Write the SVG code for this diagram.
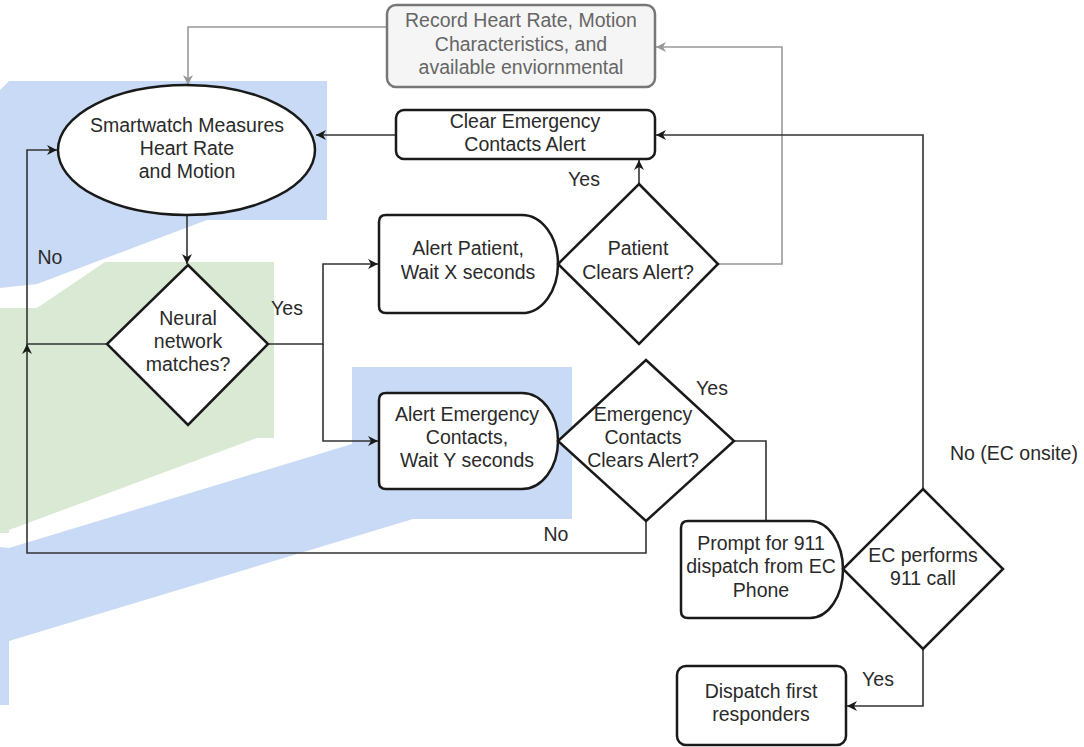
<svg xmlns="http://www.w3.org/2000/svg" width="1084" height="747" viewBox="0 0 1084 747">
<defs>
<style>
.hl-blue{fill:#c9daf6;stroke:none}
.hl-green{fill:#d9e9d3;stroke:none}
.node{fill:#ffffff;stroke:#1a1a1a;stroke-width:2.5}
.gnode{fill:#f5f5f5;stroke:#777777;stroke-width:2.5}
.edge{fill:none;stroke:#333333;stroke-width:1.6}
.gedge{fill:none;stroke:#999999;stroke-width:1.6}
text{font-family:"Liberation Sans",Arial,Helvetica,sans-serif;font-size:19.5px;fill:#2a2a2a}
.c{text-anchor:middle}
.gt{fill:#666666}
</style>
<marker id="arr" viewBox="0 0 10 10" refX="10" refY="5" markerWidth="10" markerHeight="10" markerUnits="userSpaceOnUse" orient="auto">
<path d="M0,0 L10,5 L0,10 L3,5 Z" fill="#1a1a1a"/>
</marker>
<marker id="garr" viewBox="0 0 10 10" refX="10" refY="5" markerWidth="10" markerHeight="10" markerUnits="userSpaceOnUse" orient="auto">
<path d="M0,0 L10,5 L0,10 L3,5 Z" fill="#999999"/>
</marker>
</defs>
<rect width="1084" height="747" fill="#ffffff"/>
<g id="highlights">
<polygon class="hl-blue" points="9,81 327,81 327,220 207,220 37,284 0,288 0,90"/>
<polygon class="hl-green" points="105,262 274,262 274,438 257,438 9,530 9,533 0,533 0,308 37,308"/>
<polygon class="hl-blue" points="352,367 572,367 572,519 413,519 9,641 9,705 0,705 0,547 9,548 352,444"/>
</g>
<g id="connectors">
<path class="gedge" d="M387,27 H188 V85" marker-end="url(#garr)"/>
<path class="gedge" d="M718,264 H782 V47 H656" marker-end="url(#garr)"/>
<path class="edge" d="M396,135 H316" marker-end="url(#arr)"/>
<path class="edge" d="M639,184 V160" marker-end="url(#arr)"/>
<path class="edge" d="M923,489 V135 H656" marker-end="url(#arr)"/>
<path class="edge" d="M187,215 V264" marker-end="url(#arr)"/>
<path class="edge" d="M268,344 H323 V264 H378" marker-end="url(#arr)"/>
<path class="edge" d="M323,344 V441 H378" marker-end="url(#arr)"/>
<path class="edge" d="M107,344 H27 V150 H57" marker-end="url(#arr)"/>
<path class="edge" d="M646,521 V553 H27 V344" marker-end="url(#arr)"/>
<path class="edge" d="M734,441 H766 V521"/>
<path class="edge" d="M923,649 V706 H847" marker-end="url(#arr)"/>
<text x="50" y="264" class="c">No</text>
<text x="287" y="315" class="c">Yes</text>
<text x="584" y="186" class="c">Yes</text>
<text x="712" y="395" class="c">Yes</text>
<text x="556" y="541" class="c">No</text>
<text x="950" y="460">No (EC onsite)</text>
<text x="878" y="686" class="c">Yes</text>
</g>
<g id="record">
<rect class="gnode" x="387" y="5" width="268" height="82" rx="9"/>
<text class="c gt" x="521" y="27">Record Heart Rate, Motion</text>
<text class="c gt" x="521" y="51">Characteristics, and</text>
<text class="c gt" x="521" y="74">available enviornmental</text>
</g>
<g id="clear-ec">
<rect class="node" x="396" y="110" width="259" height="49" rx="8"/>
<text class="c" x="525" y="128">Clear Emergency</text>
<text class="c" x="525" y="151">Contacts Alert</text>
</g>
<g id="smartwatch">
<ellipse class="node" cx="186.5" cy="150" rx="128.5" ry="65"/>
<text class="c" x="187" y="132">Smartwatch Measures</text>
<text class="c" x="187" y="155">Heart Rate</text>
<text class="c" x="187" y="178">and Motion</text>
</g>
<g id="neural">
<polygon class="node" points="188,265 268,344 188,425 107,344"/>
<text class="c" x="188" y="325">Neural</text>
<text class="c" x="188" y="348">network</text>
<text class="c" x="188" y="371">matches?</text>
</g>
<g id="alert-patient">
<path class="node" d="M386,215 H522 A36,49 0 0 1 558,264 A36,49 0 0 1 522,313 H386 Q379,313 379,306 V222 Q379,215 386,215 Z"/>
<text class="c" x="468" y="255">Alert Patient,</text>
<text class="c" x="468" y="279">Wait X seconds</text>
</g>
<g id="patient-clears">
<polygon class="node" points="639,184 718,264 639,344 558,264"/>
<text class="c" x="638" y="255">Patient</text>
<text class="c" x="638" y="279">Clears Alert?</text>
</g>
<g id="alert-ec">
<path class="node" d="M386,393 H522 A36,48 0 0 1 558,441 A36,48 0 0 1 522,489 H386 Q379,489 379,482 V400 Q379,393 386,393 Z"/>
<text class="c" x="467" y="421">Alert Emergency</text>
<text class="c" x="467" y="444">Contacts,</text>
<text class="c" x="467" y="467">Wait Y seconds</text>
</g>
<g id="ec-clears">
<polygon class="node" points="646,360 734,441 646,521 558,441"/>
<text class="c" x="643" y="421">Emergency</text>
<text class="c" x="643" y="444">Contacts</text>
<text class="c" x="643" y="467">Clears Alert?</text>
</g>
<g id="prompt-911">
<path class="node" d="M688,521 H810 A33,48.5 0 0 1 843,569.5 A33,48.5 0 0 1 810,618 H688 Q681,618 681,611 V528 Q681,521 688,521 Z"/>
<text class="c" x="761" y="550">Prompt for 911</text>
<text class="c" x="761" y="573">dispatch from EC</text>
<text class="c" x="761" y="597">Phone</text>
</g>
<g id="ec-performs">
<polygon class="node" points="923,489 1003,569 923,649 843,569"/>
<text class="c" x="923" y="562">EC performs</text>
<text class="c" x="923" y="585">911 call</text>
</g>
<g id="dispatch">
<rect class="node" x="677" y="666" width="169" height="79" rx="9"/>
<text class="c" x="761" y="698">Dispatch first</text>
<text class="c" x="761" y="721">responders</text>
</g>
</svg>
